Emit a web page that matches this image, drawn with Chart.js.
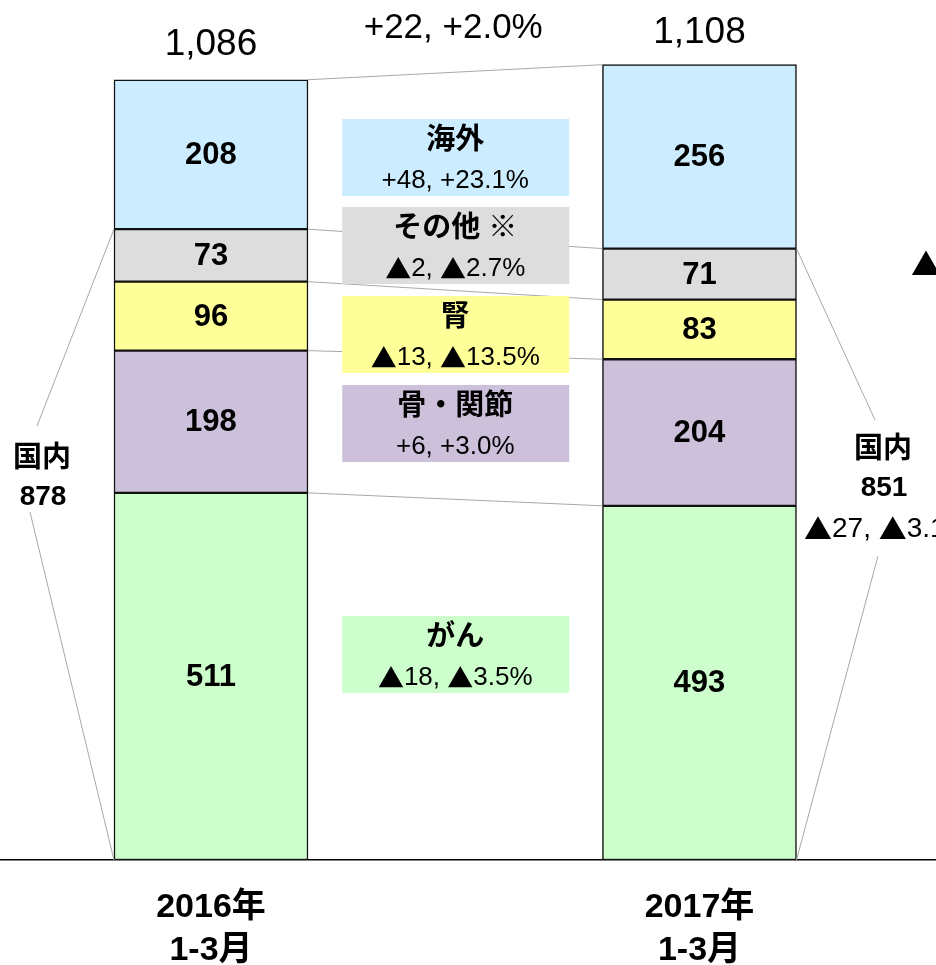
<!DOCTYPE html>
<html lang="ja">
<head>
  <meta charset="UTF-8" />
  <title>疾患領域別 売上収益</title>
  <script src="https://cdn.jsdelivr.net/npm/chart.js"></script>
  <style>
    body { margin: 0; background: #fff; }
    #wrap { width: 936px; height: 965px; }
  </style>
</head>
<body>
  <div id="wrap"><canvas id="chart"></canvas></div>

  <script>
    // data (bottom to top of each bar)
    const periods = [["2016年", "1-3月"], ["2017年", "1-3月"]];
    const segments = ["がん", "骨・関節", "腎", "その他 ※", "海外"];
    const gan = [511, 493];
    const hone = [198, 204];
    const jin = [96, 83];
    const sonota = [73, 71];
    const kaigai = [208, 256];
    const totals = [1086, 1108];
    const domestic = [878, 851];
    const segmentChange = ["▲18, ▲3.5%", "+6, +3.0%", "▲13, ▲13.5%", "▲2, ▲2.7%", "+48, +23.1%"];
    const totalChange = "+22, +2.0%";
    const domesticChange = "▲27, ▲3.1%";

    const colors = ["#CCFFCC", "#CCC0DA", "#FFFF99", "#DDDDDD", "#CCECFF"];
    const FONT = '"Liberation Sans", "Noto Sans CJK JP", sans-serif';
    const TRI_FONT = '"Noto Sans CJK JP"';
    // box tops for the change notes in the middle column
    const boxTops = [616, 385, 296, 207, 119];

    const series = [gan, hone, jin, sonota, kaigai];

    const extras = {
      id: "extras",
      afterDatasetsDraw(chart) {
        const ctx = chart.ctx;
        const a = series.map((_, i) => chart.getDatasetMeta(i).data[0]);
        const b = series.map((_, i) => chart.getDatasetMeta(i).data[1]);
        const line = (x1, y1, x2, y2) => {
          ctx.beginPath(); ctx.moveTo(x1, y1); ctx.lineTo(x2, y2); ctx.stroke();
        };
        const text = (s, x, y, font) => {
          ctx.font = font;
          ctx.textAlign = "center";
          ctx.textBaseline = "middle";
          ctx.fillText(s, x, y);
        };
        // the ▲ marks come from the CJK font so they are full width
        const mixed = (s, x, y, size, align) => {
          const parts = s.split(/(▲)/).filter(Boolean);
          const fontOf = p => size + "px " + (p === "▲" ? TRI_FONT : FONT);
          const widths = parts.map(p => { ctx.font = fontOf(p); return ctx.measureText(p).width; });
          const total = widths.reduce((s, w) => s + w, 0);
          let pos = align === "left" ? x : x - total / 2;
          ctx.textAlign = "left";
          ctx.textBaseline = "middle";
          parts.forEach((p, k) => {
            ctx.font = fontOf(p);
            ctx.fillText(p, pos, y);
            pos += widths[k];
          });
        };
        ctx.save();

        // connectors between the bars
        ctx.strokeStyle = "#a8a8a8";
        ctx.lineWidth = 1;
        for (let i = 0; i < series.length; i++) {
          line(a[i].x + a[i].width / 2, a[i].y, b[i].x - b[i].width / 2, b[i].y);
        }
        // brackets for 国内
        const aL = a[0].x - a[0].width / 2, bR = b[0].x + b[0].width / 2;
        line(aL, a[3].y, 37, 426);
        line(aL, a[0].base, 30, 512);
        line(bR, b[3].y, 875, 420);
        line(bR, b[0].base, 878, 556);

        // change boxes
        const cx = chart.scales.x.getPixelForValue(0.5);
        for (let i = 0; i < series.length; i++) {
          const top = boxTops[i];
          ctx.fillStyle = colors[i];
          ctx.fillRect(cx - 113, top, 227, 77);
          ctx.fillStyle = "#000";
          text(segments[i], cx, top + 22, "bold 29px " + FONT);
          mixed(segmentChange[i], cx, top + 62, 26);
        }

        // values inside the bars
        for (let i = 0; i < series.length; i++) {
          [a[i], b[i]].forEach((el, j) => {
            text(String(series[i][j]), el.x, (el.y + el.base) / 2 + 1, "bold 31px " + FONT);
          });
        }

        // totals and total change
        text(totals[0].toLocaleString("en-US"), a[4].x, a[4].y - 35, "37px " + FONT);
        text(totals[1].toLocaleString("en-US"), b[4].x, b[4].y - 32, "37px " + FONT);
        text(totalChange, cx - 2, 28, "35px " + FONT);

        // 国内 labels
        text("国内", 42, 459, "bold 29px " + FONT);
        text(String(domestic[0]), 43, 497, "bold 28px " + FONT);
        text("国内", 883, 450, "bold 29px " + FONT);
        text(String(domestic[1]), 884, 488, "bold 28px " + FONT);
        mixed(domesticChange, 804, 529, 28, "left");
        mixed("▲", 911, 264, 30, "left");

        ctx.restore();
      }
    };

    new Chart(document.getElementById("chart"), {
      type: "bar",
      data: {
        datasets: series.map((vals, i) => ({
          label: segments[i],
          data: vals.map((v, j) => ({ x: j, y: v })),
          backgroundColor: colors[i],
          borderColor: "#111",
          borderWidth: 1.5,
          borderSkipped: false,
          barThickness: 194
        }))
      },
      options: {
        responsive: true,
        maintainAspectRatio: false,
        animation: false,
        layout: { padding: 0 },
        plugins: { legend: { display: false }, tooltip: { enabled: false } },
        scales: {
          x: {
            type: "linear",
            stacked: true,
            offset: false,
            bounds: "data",
            min: -0.4319,
            max: 1.4842,
            grid: { display: false, offset: false },
            border: { display: true, color: "#000", width: 1.5 },
            afterBuildTicks: s => { s.ticks = [{ value: 0 }, { value: 1 }]; },
            afterFit: s => { s.height = 105; },
            ticks: {
              color: "#000",
              padding: 18,
              font: { family: FONT, size: 34, weight: "bold", lineHeight: 1.27 },
              callback: v => periods[Math.round(v)]
            }
          },
          y: {
            stacked: true,
            display: false,
            min: 0,
            max: 1197
          }
        }
      },
      plugins: [extras]
    });
  </script>
</body>
</html>
